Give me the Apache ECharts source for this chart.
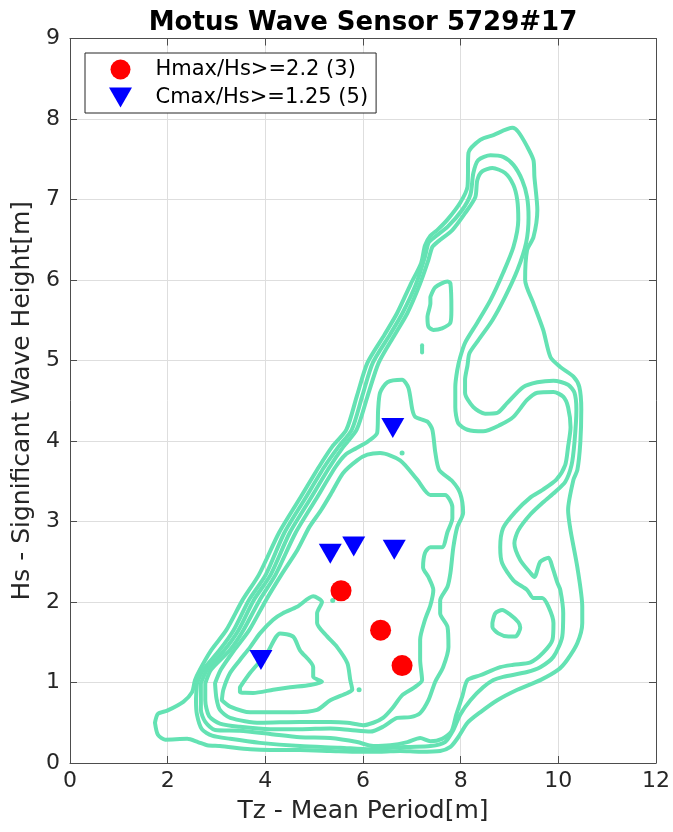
<!DOCTYPE html>
<html>
<head>
<meta charset="utf-8">
<title>Motus Wave Sensor 5729#17</title>
<script src="https://cdn.jsdelivr.net/npm/echarts@6/dist/echarts.min.js"></script>
<style>
  html, body { margin: 0; padding: 0; background: #fff; }
  #chart { width: 673px; height: 832px; }
</style>
</head>
<body>
<div id="chart"></div>
<script>
// Axis ticks
const xTicks = [0, 2, 4, 6, 8, 10, 12];
const yTicks = [0, 1, 2, 3, 4, 5, 6, 7, 8, 9];

// Event markers [Tz, Hs]
const hmaxName = 'Hmax/Hs>=2.2 (3)';
const cmaxName = 'Cmax/Hs>=1.25 (5)';
const hmaxPts = [[5.55, 2.14], [6.36, 1.65], [6.80, 1.21]];
const cmaxPts = [[6.61, 4.16], [5.33, 2.60], [5.81, 2.69], [6.64, 2.65], [3.91, 1.28]];

// Occurrence contours, outermost level first, each as [Tz, Hs] vertices
const level1 = [[1.74,0.50],[1.80,0.61],[1.99,0.65],[2.32,0.76],[2.50,0.88],[2.56,1.03],[2.66,1.16],[2.89,1.40],[3.20,1.65],[3.53,2.02],[3.87,2.34],[4.28,2.86],[4.69,3.27],[5.10,3.68],[5.37,3.93],[5.66,4.14],[5.88,4.57],[6.09,4.97],[6.44,5.32],[6.70,5.59],[6.97,5.94],[7.19,6.21],[7.27,6.43],[7.38,6.55],[7.52,6.62],[7.73,6.75],[7.99,6.96],[8.14,7.16],[8.16,7.58],[8.40,7.74],[8.67,7.80],[9.06,7.89],[9.18,7.84],[9.36,7.66],[9.49,7.49],[9.51,7.28],[9.57,6.87],[9.49,6.53],[9.36,6.37],[9.32,6.00],[9.49,5.71],[9.69,5.38],[9.84,5.04],[10.04,4.92],[10.31,4.80],[10.43,4.67],[10.47,4.39],[10.45,3.98],[10.39,3.64],[10.31,3.52],[10.20,3.14],[10.25,2.89],[10.39,2.43],[10.49,1.94],[10.49,1.74],[10.39,1.49],[10.18,1.28],[10.00,1.16],[9.63,1.03],[9.16,0.91],[8.75,0.78],[8.40,0.63],[8.14,0.50],[7.95,0.32],[7.79,0.20],[7.58,0.15],[7.17,0.14],[6.76,0.15],[6.35,0.14],[5.94,0.14],[5.33,0.15],[4.71,0.16],[4.10,0.16],[3.69,0.17],[3.07,0.21],[2.81,0.22],[2.62,0.26],[2.40,0.30],[1.95,0.29],[1.80,0.35],[1.74,0.50]];
const level2 = [[2.60,0.99],[2.73,1.16],[3.06,1.40],[3.35,1.65],[3.66,2.02],[4.01,2.34],[4.39,2.86],[4.80,3.27],[5.21,3.68],[5.50,3.93],[5.77,4.14],[5.99,4.57],[6.20,4.97],[6.55,5.32],[6.81,5.59],[7.08,5.94],[7.27,6.29],[7.34,6.46],[7.44,6.52],[7.73,6.66],[8.03,6.87],[8.20,7.06],[8.26,7.33],[8.36,7.49],[8.61,7.55],[8.87,7.53],[9.08,7.43],[9.26,7.24],[9.36,7.03],[9.39,6.78],[9.34,6.46],[9.16,6.12],[8.91,5.79],[8.65,5.50],[8.36,5.25],[8.18,5.09],[8.14,4.94],[8.09,4.76],[8.09,4.60],[8.26,4.42],[8.50,4.34],[8.75,4.35],[8.95,4.47],[9.28,4.67],[9.57,4.73],[9.90,4.75],[10.20,4.70],[10.33,4.60],[10.37,4.39],[10.33,3.98],[10.27,3.70],[10.14,3.49],[9.94,3.37],[9.69,3.24],[9.43,3.09],[9.18,2.89],[9.10,2.73],[9.22,2.52],[9.43,2.36],[9.51,2.31],[9.63,2.50],[9.80,2.55],[9.88,2.43],[9.98,2.24],[10.04,2.15],[10.10,1.86],[10.08,1.57],[9.90,1.32],[9.63,1.19],[9.36,1.13],[8.87,1.07],[8.67,1.03],[8.46,0.94],[8.20,0.78],[7.99,0.60],[7.85,0.41],[7.68,0.26],[7.38,0.21],[6.97,0.20],[6.56,0.19],[6.15,0.17],[5.53,0.19],[4.71,0.21],[3.89,0.25],[3.28,0.30],[2.91,0.34],[2.70,0.42],[2.60,0.60],[2.58,0.78],[2.60,0.99]];
const level3 = [[2.68,0.99],[2.81,1.16],[3.16,1.40],[3.45,1.65],[3.76,2.02],[4.11,2.34],[4.50,2.86],[4.91,3.27],[5.32,3.68],[5.60,3.93],[5.87,4.14],[6.10,4.57],[6.32,4.97],[6.65,5.32],[6.91,5.59],[7.16,5.94],[7.34,6.25],[7.42,6.41],[7.54,6.48],[7.83,6.62],[8.09,6.83],[8.30,7.03],[8.34,7.24],[8.44,7.35],[8.65,7.39],[8.91,7.33],[9.08,7.18],[9.16,6.99],[9.18,6.75],[9.08,6.41],[8.87,6.09],[8.61,5.75],[8.34,5.47],[8.09,5.22],[7.99,5.04],[7.93,4.88],[7.89,4.67],[7.89,4.42],[7.95,4.22],[8.14,4.14],[8.46,4.12],[8.81,4.20],[9.08,4.30],[9.36,4.51],[9.57,4.60],[9.90,4.61],[10.10,4.55],[10.20,4.42],[10.25,4.17],[10.20,3.93],[10.14,3.70],[9.96,3.52],[9.67,3.39],[9.43,3.30],[9.12,3.12],[8.87,2.92],[8.81,2.68],[8.85,2.48],[9.08,2.27],[9.36,2.15],[9.49,2.05],[9.67,2.05],[9.80,1.94],[9.90,1.74],[9.88,1.53],[9.69,1.37],[9.43,1.25],[9.08,1.22],[8.81,1.19],[8.40,1.09],[8.14,1.03],[8.03,0.82],[7.91,0.60],[7.81,0.39],[7.62,0.30],[7.38,0.27],[7.17,0.31],[6.91,0.26],[6.56,0.22],[6.21,0.21],[5.88,0.26],[5.33,0.31],[4.71,0.32],[4.10,0.36],[3.48,0.40],[2.97,0.41],[2.77,0.51],[2.68,0.66],[2.68,0.99]];
const level4 = [[2.77,0.99],[2.89,1.16],[3.27,1.40],[3.55,1.65],[3.88,2.02],[4.21,2.34],[4.62,2.86],[5.03,3.27],[5.44,3.68],[5.64,3.83],[5.86,3.91],[6.09,3.99],[6.29,4.10],[6.31,4.39],[6.35,4.60],[6.50,4.73],[6.80,4.76],[6.93,4.66],[7.01,4.39],[7.07,4.30],[7.32,4.24],[7.42,4.14],[7.48,3.86],[7.56,3.64],[7.83,3.50],[7.99,3.35],[8.05,3.11],[7.93,2.93],[7.85,2.68],[7.79,2.36],[7.73,2.19],[7.58,2.02],[7.58,1.86],[7.73,1.69],[7.75,1.44],[7.64,1.19],[7.48,1.01],[7.34,0.78],[7.17,0.62],[6.97,0.57],[6.70,0.56],[6.41,0.45],[6.15,0.39],[5.74,0.41],[5.33,0.43],[4.71,0.42],[4.10,0.42],[3.48,0.45],[3.07,0.49],[2.85,0.58],[2.77,0.78],[2.77,0.99]];
const level5 = [[2.97,0.99],[3.09,1.16],[3.36,1.40],[3.67,1.65],[4.01,2.02],[4.33,2.34],[4.66,2.65],[4.90,2.93],[5.14,3.14],[5.35,3.35],[5.59,3.60],[5.88,3.76],[6.09,3.83],[6.35,3.85],[6.76,3.76],[7.11,3.52],[7.38,3.33],[7.68,3.33],[7.83,3.18],[7.83,3.04],[7.73,2.87],[7.62,2.68],[7.38,2.68],[7.27,2.61],[7.23,2.43],[7.34,2.31],[7.44,2.15],[7.38,1.96],[7.27,1.78],[7.17,1.53],[7.17,1.28],[7.21,1.03],[7.03,0.93],[6.80,0.84],[6.60,0.68],[6.41,0.56],[6.21,0.50],[6.00,0.47],[5.68,0.50],[5.33,0.51],[4.71,0.51],[3.89,0.50],[3.28,0.56],[3.07,0.66],[3.00,0.80],[2.97,0.99]];
const level6 = [[3.11,0.78],[3.14,0.91],[3.28,1.12],[3.48,1.28],[3.69,1.44],[3.89,1.61],[4.16,1.78],[4.36,1.86],[4.65,1.94],[4.98,2.07],[5.16,2.00],[5.06,1.86],[5.06,1.74],[5.27,1.57],[5.47,1.44],[5.68,1.24],[5.74,1.03],[5.78,0.91],[5.68,0.87],[5.33,0.78],[5.06,0.66],[4.57,0.63],[4.16,0.63],[3.69,0.63],[3.28,0.70],[3.11,0.78]];
const level7 = [[3.48,0.94],[3.69,1.12],[4.04,1.37],[4.30,1.61],[4.57,1.57],[4.71,1.40],[4.98,1.19],[4.98,1.07],[5.16,1.01],[4.92,0.97],[4.51,0.94],[4.16,0.91],[3.75,0.87],[3.48,0.88],[3.48,0.94]];
// Small isolated pockets
const pocketUpper = [[7.38,5.79],[7.48,5.91],[7.73,5.98],[7.79,5.96],[7.81,5.63],[7.79,5.47],[7.62,5.40],[7.44,5.38],[7.34,5.42],[7.32,5.54],[7.38,5.71],[7.38,5.79]];
const pocketRight = [[8.65,1.74],[8.71,1.86],[8.85,1.90],[9.02,1.84],[9.18,1.75],[9.22,1.68],[9.12,1.57],[8.98,1.57],[8.77,1.61],[8.65,1.69],[8.65,1.74]];
const pocketDash = [[7.21,5.19],[7.21,5.10]];
const pocketDots = [[6.80,3.85],[5.38,2.02],[5.92,0.91]];

const contourColor = '#64e2b3';
const font = 'DejaVu Sans';
const inkColor = '#262626';

const contourSets = [level1, level2, level3, level4, level5, level6, level7, pocketUpper, pocketRight, pocketDash];

const contourSeries = contourSets.map(function (pts) {
  return {
    type: 'line',
    data: pts,
    showSymbol: false,
    symbol: 'none',
    smooth: 0.25,
    silent: true,
    z: 2,
    lineStyle: { color: contourColor, width: 4, cap: 'round', join: 'round' }
  };
});

const chart = echarts.init(document.getElementById('chart'), null, { renderer: 'canvas' });

const axisCommon = {
  type: 'value',
  axisLine: { show: true, onZero: false, lineStyle: { color: '#4d4d4d', width: 1 } },
  axisTick: { show: true, inside: true, length: 7, lineStyle: { color: '#4d4d4d' } }
};

chart.setOption({
  animation: false,
  backgroundColor: '#ffffff',
  title: {
    text: 'Motus Wave Sensor 5729#17',
    left: 358,
    top: 5,
    textAlign: 'center',
    textStyle: { fontFamily: font, fontWeight: 'bold', fontSize: 26, color: '#000' }
  },
  legend: {
    data: [hmaxName, cmaxName],
    orient: 'vertical',
    left: 85,
    top: 53,
    padding: [6, 8, 5, 24],
    itemGap: 7,
    itemWidth: 60,
    itemHeight: 20,
    backgroundColor: '#ffffff',
    borderColor: inkColor,
    borderWidth: 1,
    borderRadius: 0,
    textStyle: { fontFamily: font, fontSize: 21, color: '#000' }
  },
  grid: { left: 70, right: 17, top: 38.5, bottom: 69, containLabel: false },
  xAxis: [
    Object.assign({}, axisCommon, {
      position: 'bottom',
      min: xTicks[0], max: xTicks[xTicks.length - 1], interval: xTicks[1] - xTicks[0],
      name: 'Tz - Mean Period[m]',
      nameLocation: 'middle',
      nameGap: 36,
      nameTextStyle: { fontFamily: font, fontSize: 25, color: inkColor },
      axisLabel: { fontFamily: font, fontSize: 22, color: inkColor, margin: 7 },
      splitLine: { show: true, lineStyle: { color: '#dedede', width: 1 } }
    }),
    Object.assign({}, axisCommon, {
      position: 'top',
      min: xTicks[0], max: xTicks[xTicks.length - 1], interval: xTicks[1] - xTicks[0],
      axisLabel: { show: false },
      splitLine: { show: false }
    })
  ],
  yAxis: [
    Object.assign({}, axisCommon, {
      position: 'left',
      min: yTicks[0], max: yTicks[yTicks.length - 1], interval: yTicks[1] - yTicks[0],
      name: 'Hs - Significant Wave Height[m]',
      nameLocation: 'middle',
      nameGap: 33,
      nameTextStyle: { fontFamily: font, fontSize: 25, color: inkColor },
      axisLabel: { fontFamily: font, fontSize: 22, color: inkColor, margin: 10 },
      splitLine: { show: true, lineStyle: { color: '#dedede', width: 1 } }
    }),
    Object.assign({}, axisCommon, {
      position: 'right',
      min: yTicks[0], max: yTicks[yTicks.length - 1], interval: yTicks[1] - yTicks[0],
      axisLabel: { show: false },
      splitLine: { show: false }
    })
  ],
  series: contourSeries.concat([
    {
      type: 'scatter',
      data: pocketDots,
      symbol: 'circle',
      symbolSize: 5,
      silent: true,
      z: 2,
      itemStyle: { color: contourColor, opacity: 1 }
    },
    {
      name: hmaxName,
      type: 'scatter',
      data: hmaxPts,
      symbol: 'circle',
      symbolSize: 21,
      z: 5,
      itemStyle: { color: '#ff0000', opacity: 1 }
    },
    {
      name: cmaxName,
      type: 'scatter',
      data: cmaxPts,
      symbol: 'path://M0,0L23,0L11.5,20Z',
      symbolSize: [23, 20],
      z: 5,
      itemStyle: { color: '#0000ff', opacity: 1 }
    }
  ])
});
</script>
</body>
</html>
